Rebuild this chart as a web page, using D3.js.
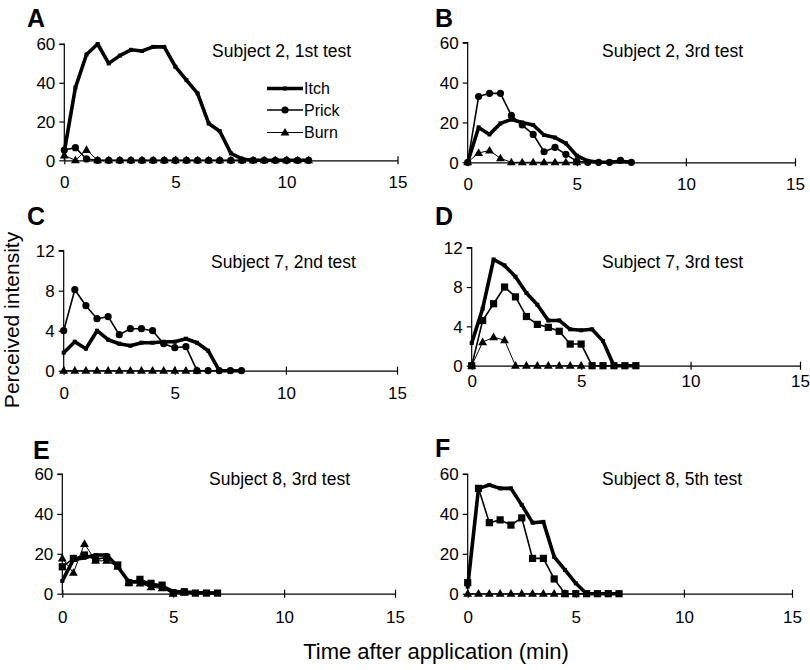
<!DOCTYPE html>
<html><head><meta charset="utf-8">
<script src="https://cdn.jsdelivr.net/npm/d3@7"></script>
<style>body{margin:0;background:#fff}svg{display:block}text{font-family:Arial,"Liberation Sans",sans-serif}</style>
</head><body><svg id="c" width="810" height="670"></svg>
<script>
// ---------- DATA ----------
const panelLetters = ["A","B","C","D","E","F"];
const panelTitles = ["Subject 2, 1st test","Subject 2, 3rd test","Subject 7, 2nd test","Subject 7, 3rd test","Subject 8, 3rd test","Subject 8, 5th test"];
const yMaxes = [60,60,12,12,60,60];
const yTicksBig = [0,20,40,60];
const yTicksSmall = [0,4,8,12];
const xTicks = [0,5,10,15];
const seriesNames = ["Itch","Prick","Burn"];

const timeA = [0,0.5,1,1.5,2,2.5,3,3.5,4,4.5,5,5.5,6,6.5,7,7.5,8,8.5,9,9.5,10,10.5,11];
const itchA  = [4.5,37.5,54.6,60,50,54,57,56.4,58.5,58.5,48.3,41.4,34.5,19,15,3.6,0.7,0,0,0,0,0,0];
const prickA = [5.3,6.5,0.7,0,0,0,0,0,0,0,0,0,0,0,0,0,0,0,0,0,0,0,0];
const burnA  = [2.5,0,5.4,0,0,0,0,0,0,0,0,0,0,0,0,0,0,0,0,0,0,0,0];

const timeB = [0,0.5,1,1.5,2,2.5,3,3.5,4,4.5,5,5.5,6,6.5,7,7.5];
const itchB  = [0,17.5,14,19.5,21.5,20,18.7,13.7,12.4,9.5,3.3,0.7,0,0,0.5,0];
const prickB = [0,33,34.6,34.6,23.5,18.7,14,5.3,7.5,4,0.5,0,0,0,1,0];
const timeBurnB = [0,0.5,1,1.5,2,2.5,3,3.5,4,4.5,5];
const burnB  = [0,4.7,5.9,2,0,0,0,0,0,0,0];

const timeC = [0,0.5,1,1.5,2,2.5,3,3.5,4,4.5,5,5.5,6,6.5,7,7.5,8];
const itchC  = [1.8,2.9,2.2,4.0,3.1,2.7,2.5,2.8,2.8,2.9,2.9,3.2,2.8,2.0,0,0,0];
const prickC = [4.0,8.1,6.5,5.2,5.4,3.6,4.2,4.2,4.0,2.7,2.3,2.4,0,0,0,0,0];
const timeBurnC = [0,0.5,1,1.5,2,2.5,3,3.5,4,4.5,5,5.5,6];
const burnC  = [0,0,0,0,0,0,0,0,0,0,0,0,0];

const timeD = [0,0.5,1,1.5,2,2.5,3,3.5,4,4.5,5,5.5,6,6.5,7,7.5];
const itchD  = [2.3,5.8,10.8,10.2,9.05,7.4,6.2,4.6,4.6,3.7,3.6,3.7,2.5,0,0,0];
const prickD = [0,4.6,6.3,8.0,7.0,5.0,4.2,3.9,3.5,2.2,2.2,0,0,0,0,0];
const timeBurnD = [0,0.5,1,1.5,2,2.5,3,3.5,4,4.5,5];
const burnD  = [0,2.4,2.9,2.6,0,0,0,0,0,0,0];

const timeE = [0,0.5,1,1.5,2,2.5,3,3.5,4,4.5,5,5.5,6,6.5,7];
const itchE  = [6.4,17,18,19.4,19.4,13.5,6,6,4.3,3.8,1,1,0.5,0.5,0.3];
const prickE = [13.5,17.7,19.4,17.2,18.2,14.4,5.5,7.2,5.2,4.3,0.5,1,0.3,0.3,0.3];
const timeBurnE = [0,0.5,1,1.5,2,2.5,3,3.5,4,4.5,5,5.5];
const burnE  = [17.7,10.5,25,16.5,16.5,13.5,5.5,5.2,3.2,2.7,0,0.5];

const timeF = [0,0.5,1,1.5,2,2.5,3,3.5,4,4.5,5,5.5,6,6.5,7];
const itchF  = [3.5,52.8,54.5,52.8,52.8,44.5,35.6,36,18.5,11.9,5.2,0,0,0,0];
const prickF = [5.5,52.8,35.6,37,34.4,38,17.7,17.7,7.4,0,0,0,0,0,0];
const timeBurnF = [0,0.5,1,1.5,2,2.5,3,3.5,4,4.5];
const burnF  = [0,0,0,0,0,0,0,0,0,0];

const itchTimes  = [timeA,timeB,timeC,timeD,timeE,timeF];
const itchVals   = [itchA,itchB,itchC,itchD,itchE,itchF];
const prickTimes = [timeA,timeB,timeC,timeD,timeE,timeF];
const prickVals  = [prickA,prickB,prickC,prickD,prickE,prickF];
const burnTimes  = [timeA,timeBurnB,timeBurnC,timeBurnD,timeBurnE,timeBurnF];
const burnVals   = [burnA,burnB,burnC,burnD,burnE,burnF];

// ---------- LAYOUT ----------
const layout = [
  {x0:64.3, x1:397.5, y0:160.3, y1:44,   lx:27, ly:27,  tx:212, ty:57,  xl:22},
  {x0:467.7,x1:795,   y0:162.3, y1:42.7, lx:435,ly:27,  tx:602, ty:57,  xl:22},
  {x0:63.7, x1:397,   y0:370.7, y1:250.7,lx:27, ly:225, tx:211, ty:268, xl:22},
  {x0:471.7,x1:800,   y0:365.7, y1:247.7,lx:435,ly:225, tx:602, ty:268, xl:15},
  {x0:62.3, x1:395,   y0:593.7, y1:474,  lx:33, ly:459, tx:209, ty:485, xl:23},
  {x0:467.7,x1:792,   y0:593.7, y1:474,  lx:435,ly:457, tx:602, ty:485, xl:23}
];
const prickMarker = ["circle","circle","circle","square","square","square"];

const svg = d3.select("#c");

function drawMarker(g, type, x, y) {
  if (type === "circle") g.append("circle").attr("cx",x).attr("cy",y).attr("r",3.6).attr("fill","#000");
  else if (type === "square") g.append("rect").attr("x",x-3.6).attr("y",y-3.6).attr("width",7.2).attr("height",7.2).attr("fill","#000");
  else if (type === "tri") g.append("path").attr("d",d3.symbol(d3.symbolTriangle,34)()).attr("transform",`translate(${x},${y+0.5})`).attr("fill","#000");
  else if (type === "dash") g.append("rect").attr("x",x-2).attr("y",y-2).attr("width",4).attr("height",4).attr("fill","#000");
}

layout.forEach((L,i)=>{
  const g = svg.append("g");
  const x = d3.scaleLinear().domain([0,15]).range([L.x0,L.x1]);
  const y = d3.scaleLinear().domain([0,yMaxes[i]]).range([L.y0,L.y1]);
  const yt = yMaxes[i] === 60 ? yTicksBig : yTicksSmall;

  const ya = g.append("g").attr("transform",`translate(${L.x0},0)`)
    .call(d3.axisLeft(y).tickValues(yt).tickSize(5).tickPadding(4).tickFormat(d3.format("d")));
  ya.select(".domain").attr("stroke","#000").attr("stroke-width",1.2).attr("d",`M-5,${L.y1}H0V${L.y0}`);
  ya.selectAll(".tick line").attr("stroke","#000").attr("stroke-width",1.2);
  ya.selectAll("text").attr("font-size",17).attr("fill","#000").attr("font-family","Arial, Liberation Sans, sans-serif").attr("dy","0.35em");

  const xa = g.append("g").attr("transform",`translate(0,${L.y0})`)
    .call(d3.axisBottom(x).tickValues(xTicks).tickSize(0).tickPadding(L.xl - 6).tickFormat(d3.format("d")));
  xa.select(".domain").attr("stroke","#000").attr("stroke-width",1.2);
  xa.selectAll(".tick line").attr("y1",-4).attr("y2",4).attr("stroke","#000").attr("stroke-width",1.2);
  xa.selectAll("text").attr("font-size",17).attr("fill","#000").attr("font-family","Arial, Liberation Sans, sans-serif");

  const line = d3.line().x(d=>x(d[0])).y(d=>y(d[1]));
  const burn = burnTimes[i].map((t,k)=>[t,burnVals[i][k]]);
  const prick = prickTimes[i].map((t,k)=>[t,prickVals[i][k]]);
  const itch = itchTimes[i].map((t,k)=>[t,itchVals[i][k]]);

  g.append("path").attr("d",line(burn)).attr("fill","none").attr("stroke","#000").attr("stroke-width",1);
  g.append("path").attr("d",line(prick)).attr("fill","none").attr("stroke","#000").attr("stroke-width",1.6);
  g.append("path").attr("d",line(itch)).attr("fill","none").attr("stroke","#000").attr("stroke-width",3.6).attr("stroke-linejoin","round");
  burn.forEach(d=>drawMarker(g,"tri",x(d[0]),y(d[1])));
  prick.forEach(d=>drawMarker(g,prickMarker[i],x(d[0]),y(d[1])));
  itch.forEach(d=>drawMarker(g,"dash",x(d[0]),y(d[1])));

  g.append("text").attr("x",L.lx).attr("y",L.ly).attr("font-size",25).attr("font-weight","bold").text(panelLetters[i]);
  g.append("text").attr("x",L.tx).attr("y",L.ty).attr("font-size",17.5).text(panelTitles[i]);
});

// legend in panel A
const legY = [88.5,110,132.5];
const legW = [3.6,1.6,1];
const legM = ["dash","circle","tri"];
const lg = svg.append("g");
seriesNames.forEach((s,k)=>{
  lg.append("line").attr("x1",267).attr("x2",303).attr("y1",legY[k]).attr("y2",legY[k]).attr("stroke","#000").attr("stroke-width",legW[k]);
  drawMarker(lg,legM[k],285,legY[k]);
  lg.append("text").attr("x",304).attr("y",legY[k]).attr("dy","0.36em").attr("font-size",16).text(s);
});

// axis titles
svg.append("text").attr("x",436).attr("y",659).attr("text-anchor","middle").attr("font-size",22).text("Time after application (min)");
svg.append("text").attr("transform","translate(19,320) rotate(-90)").attr("text-anchor","middle").attr("font-size",21).text("Perceived intensity");
</script></body></html>
